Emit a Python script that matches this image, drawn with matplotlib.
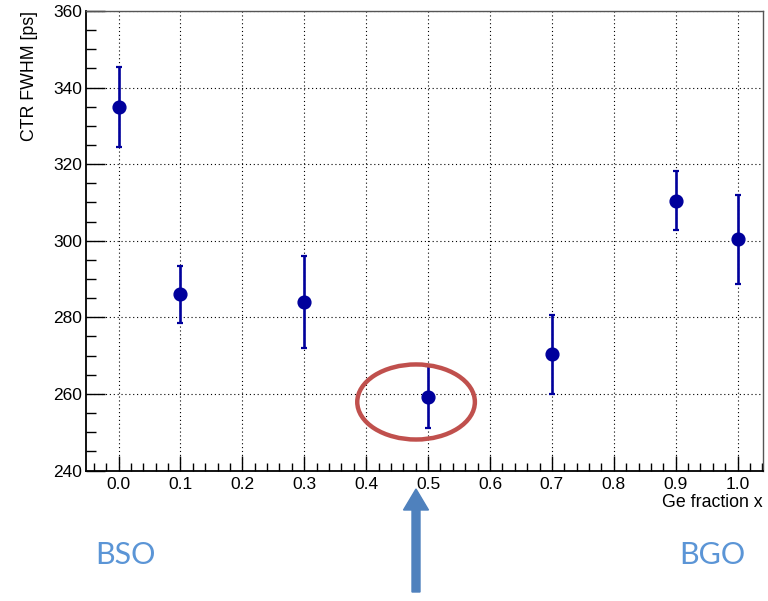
import matplotlib.pyplot as plt
from matplotlib.patches import Ellipse, FancyArrow
from matplotlib.ticker import MultipleLocator
import numpy as np

# Ge fraction and measured CTR (FWHM) with uncertainties
ge_fraction = [0.0, 0.1, 0.3, 0.5, 0.7, 0.9, 1.0]
ctr_fwhm = [335.0, 286.0, 284.0, 259.2, 270.3, 310.5, 300.4]
ctr_err = [10.4, 7.5, 12.0, 8.2, 10.4, 7.8, 11.6]

plt.rcParams['font.family'] = ['Liberation Sans', 'DejaVu Sans']

fig = plt.figure(figsize=(7.68, 6.01), dpi=100)
ax = fig.add_axes([0.112, 0.2171, 0.8815, 0.7646])

ax.errorbar(ge_fraction, ctr_fwhm, yerr=ctr_err, fmt='o', color='#00009C',
            markersize=9.2, elinewidth=1.9, capsize=2.2, capthick=1.6, zorder=3)

ax.set_xlim(-0.0525, 1.041)
ax.set_ylim(240, 360)
ax.xaxis.set_major_locator(MultipleLocator(0.1))
ax.xaxis.set_minor_locator(MultipleLocator(0.02))
ax.yaxis.set_major_locator(MultipleLocator(20))
ax.yaxis.set_minor_locator(MultipleLocator(5))
ax.set_xticks(np.round(np.arange(0, 1.01, 0.1), 1))
ax.set_xticklabels([f'{v:.1f}' for v in np.arange(0, 1.01, 0.1)])

ax.tick_params(which='both', direction='in', top=False, right=False,
               labelsize=12.5, color='black')
ax.tick_params(which='major', axis='y', length=14, width=1.0, pad=3)
ax.tick_params(which='minor', axis='y', length=7, width=1.0)
ax.tick_params(which='major', axis='x', length=11, width=1.0, pad=5)
ax.tick_params(which='minor', axis='x', length=5.5, width=1.0)

ax.grid(True, which='major', color='black', linestyle=(0, (1, 2.5)), linewidth=0.8)
ax.set_axisbelow(True)

for side in ['left', 'bottom']:
    ax.spines[side].set_linewidth(1.3)
for side in ['top', 'right']:
    ax.spines[side].set_linewidth(1.0)
    ax.spines[side].set_color('#555555')

ax.set_ylabel('CTR FWHM [ps]', fontsize=12.8, loc='top', labelpad=11)
ax.set_xlabel('Ge fraction x', fontsize=12.8, loc='right', labelpad=1)

# Highlight around the x = 0.5 point
ax.add_patch(Ellipse((0.4806, 257.9), 0.19, 19.6, fill=False,
                     edgecolor='#C0504D', linewidth=3.2, zorder=4, clip_on=False))

# Arrow and composition labels below the axes
fig.add_artist(FancyArrow(416 / 768, 1 - 592 / 601, 0, (592 - 489) / 601,
                          width=8 / 768, head_width=25 / 768, head_length=21 / 601,
                          length_includes_head=True, color='#4F81BD',
                          transform=fig.transFigure))

fig.text(125 / 768, 1 - 555 / 601, 'BSO', fontsize=22, color='#5B95D6',
         family=['Lato', 'DejaVu Sans'], ha='center', va='center')
fig.text(712 / 768, 1 - 555 / 601, 'BGO', fontsize=22, color='#5B95D6',
         family=['Lato', 'DejaVu Sans'], ha='center', va='center')

fig.savefig('out.png', dpi=100)
